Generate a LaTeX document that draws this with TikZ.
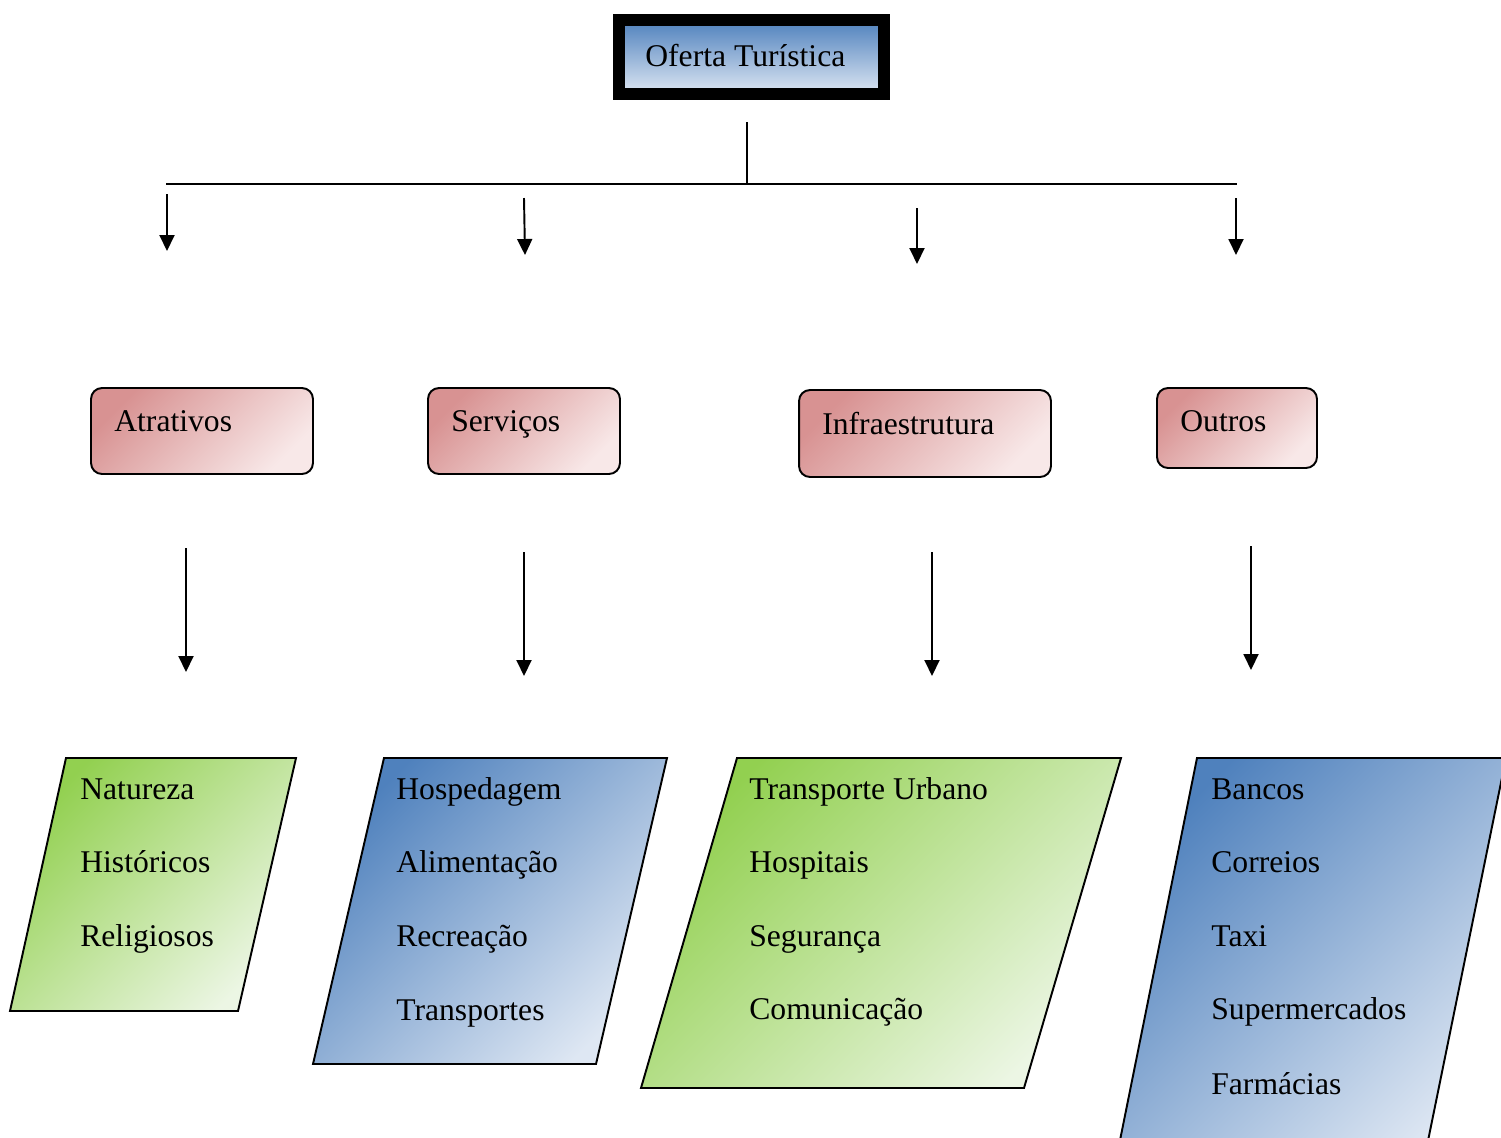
\documentclass[tikz,border=0pt]{standalone}
\usepackage{fontspec}
\setmainfont{Liberation Serif}
\usetikzlibrary{arrows.meta}
\definecolor{blueD}{RGB}{79,129,189}
\definecolor{blueL}{RGB}{222,231,243}
\definecolor{greenD}{RGB}{146,208,80}
\definecolor{greenL}{RGB}{236,246,228}
\definecolor{pinkD}{RGB}{216,146,146}
\definecolor{pinkL}{RGB}{248,232,232}
\begin{document}
\begin{tikzpicture}[x=0.02cm,y=-0.02cm,
  conn/.style={line width=1.1pt},
  arr/.style={line width=1.1pt,-{Triangle[width=0.3cm,length=0.32cm]}},
  catbox/.style={draw,line width=1.1pt,rounded corners=0.22cm,inner sep=0pt,
    top color=pinkD,bottom color=pinkL,shading angle=45},
  topbox/.style={draw,line width=0.24cm,inner sep=0pt,
    top color=blueD,bottom color=blueL,minimum width=5.3cm,minimum height=1.48cm},
  pggreen/.style={draw,line width=1.1pt,top color=greenD,bottom color=greenL,shading angle=45},
  pgblue/.style={draw,line width=1.1pt,top color=blueD,bottom color=blueL,shading angle=45},
  lbl/.style={font=\fontsize{18}{22}\selectfont,anchor=base west,inner sep=0pt}]
\useasboundingbox (0,0) rectangle (1501,1137);
\clip (0,0) rectangle (1501,1137);

% top node
\node[topbox] (top) at (751.5,57) {};
\node[lbl] (topT) at (645,66) {Oferta Turística};

% tree lines
\coordinate (t0) at (747,122);
\coordinate (t1) at (747,184);
\coordinate (hL) at (166,184);
\coordinate (hR) at (1237,184);
\draw[conn] (t0) -- (t1);
\draw[conn] (hL) -- (hR);

% first-level arrows
\coordinate (a1s) at (167,194); \coordinate (a1e) at (167,251);
\coordinate (a2s) at (524,198); \coordinate (a2e) at (525,255);
\coordinate (a3s) at (917,208); \coordinate (a3e) at (917,264);
\coordinate (a4s) at (1236,198); \coordinate (a4e) at (1236,255);
\draw[arr] (a1s) -- (a1e);
\draw[arr] (a2s) -- (a2e);
\draw[arr] (a3s) -- (a3e);
\draw[arr] (a4s) -- (a4e);

% category boxes
\node[catbox,minimum width=4.44cm,minimum height=1.72cm] (atr) at (202,431) {};
\node[lbl] (atrT) at (114,431) {Atrativos};
\node[catbox,minimum width=3.84cm,minimum height=1.72cm] (ser) at (524,431) {};
\node[lbl] (serT) at (451,431) {Serviços};
\node[catbox,minimum width=5.04cm,minimum height=1.74cm] (inf) at (925,433.5) {};
\node[lbl] (infT) at (822,434) {Infraestrutura};
\node[catbox,minimum width=3.2cm,minimum height=1.6cm] (out) at (1237,428) {};
\node[lbl] (outT) at (1180,431) {Outros};

% second-level arrows
\coordinate (b1s) at (186,548); \coordinate (b1e) at (186,672);
\coordinate (b2s) at (524,552); \coordinate (b2e) at (524,676);
\coordinate (b3s) at (932,552); \coordinate (b3e) at (932,676);
\coordinate (b4s) at (1251,546); \coordinate (b4e) at (1251,670);
\draw[arr] (b1s) -- (b1e);
\draw[arr] (b2s) -- (b2e);
\draw[arr] (b3s) -- (b3e);
\draw[arr] (b4s) -- (b4e);

% parallelograms
\draw[pggreen] (66,758) -- (296,758) -- (238,1011) -- (10,1011) -- cycle;
\draw[pgblue] (384,758) -- (667,758) -- (596,1064) -- (313,1064) -- cycle;
\draw[pggreen] (737,758) -- (1121,758) -- (1024,1088) -- (641,1088) -- cycle;
\draw[pgblue] (1197,758) -- (1506,758) -- (1420,1180) -- (1112,1180) -- cycle;

% list texts
\node[lbl] (p1a) at (80,799) {Natureza};
\node[lbl] (p1b) at (80,872) {Históricos};
\node[lbl] (p1c) at (80,946) {Religiosos};

\node[lbl] (p2a) at (396,799) {Hospedagem};
\node[lbl] (p2b) at (396,872) {Alimentação};
\node[lbl] (p2c) at (396,946) {Recreação};
\node[lbl] (p2d) at (396,1020) {Transportes};

\node[lbl] (p3a) at (749,799) {Transporte Urbano};
\node[lbl] (p3b) at (749,872) {Hospitais};
\node[lbl] (p3c) at (749,946) {Segurança};
\node[lbl] (p3d) at (749,1019) {Comunicação};

\node[lbl] (p4a) at (1211,799) {Bancos};
\node[lbl] (p4b) at (1211,872) {Correios};
\node[lbl] (p4c) at (1211,946) {Taxi};
\node[lbl] (p4d) at (1211,1019) {Supermercados};
\node[lbl] (p4e) at (1211,1094) {Farmácias};
\end{tikzpicture}
\end{document}
